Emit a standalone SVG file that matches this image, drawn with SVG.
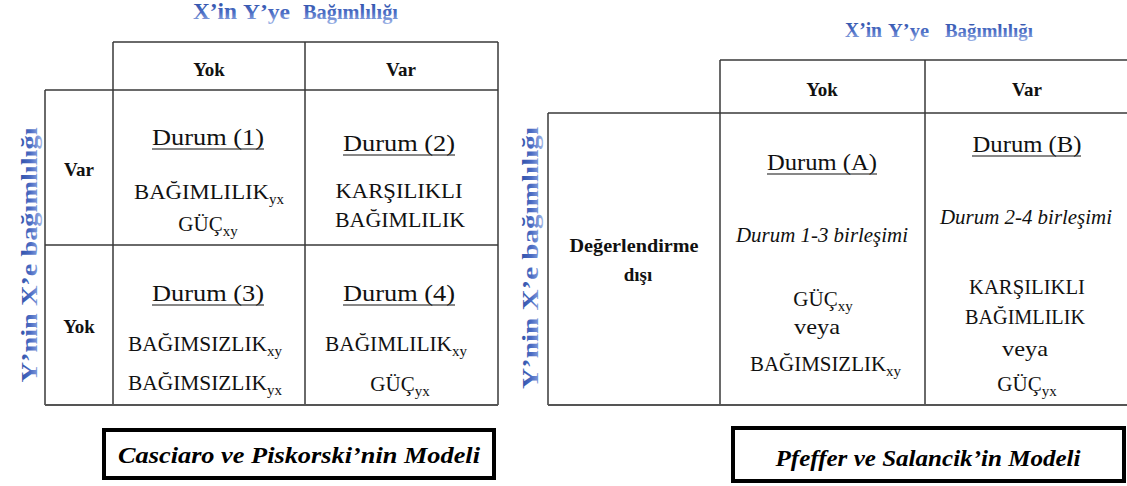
<svg xmlns="http://www.w3.org/2000/svg" width="1127" height="486" viewBox="0 0 1127 486" font-family="'Liberation Serif', 'Times New Roman', Times, serif">
  <defs>
    <linearGradient id="blueFill" x1="0" y1="0" x2="0" y2="1">
      <stop offset="0" stop-color="#27479e"/>
      <stop offset="0.55" stop-color="#4a6cc4"/>
      <stop offset="1" stop-color="#9fb5e6"/>
    </linearGradient>
    <style>
      text { font-family: 'Liberation Serif', 'Times New Roman', Times, serif; }
      .grid { stroke: #3a3a3a; stroke-width: 1.5; fill: none; }
      .base { stroke: #555; stroke-width: 2.2; fill: none; }
      .t { fill: #111; text-anchor: middle; }
      .t.l { text-anchor: start; }
      .hd { font-size: 19px; font-weight: bold; }
      .du { font-size: 23px; }
      .tx { font-size: 21px; }
      .it { font-size: 20px; font-style: italic; }
      .sub { font-size: 15px; }
      .ul { stroke: #111; stroke-width: 1.2; }
      .ttl { font-weight: bold; fill: url(#blueFill); }
      .cap { font-weight: bold; font-style: italic; font-size: 24px; fill: #000; text-anchor: middle; }
      .capbox { fill: #fff; stroke: #000; stroke-width: 4; }
    </style>
  </defs>
  <rect width="1127" height="486" fill="#fff"/>

  <!-- Casciaro & Piskorski model -->
  <g id="left-model">
    <g id="left-axis-x">
      <text class="ttl" y="19"><tspan x="193" font-size="24" textLength="44" lengthAdjust="spacingAndGlyphs">X’in</tspan><tspan x="243" font-size="21" textLength="47" lengthAdjust="spacingAndGlyphs">Y’ye</tspan><tspan x="303" font-size="21" textLength="95" lengthAdjust="spacingAndGlyphs">Bağımlılığı</tspan></text>
    </g>
    <g id="left-axis-y">
      <text class="ttl" font-size="24" text-anchor="middle" transform="translate(37 255) rotate(-90)" textLength="255" lengthAdjust="spacingAndGlyphs">Y’nin X’e bağımlılığı</text>
    </g>
    <g id="left-grid">
      <path class="grid" d="M113 42 H498 M45 90 H498 M45 245 H498 M45 90 V405 M113 42 V405 M305 42 V405 M498 42 V405"/>
      <path class="base" d="M45 405 H498"/>
    </g>
    <g id="left-headers">
      <text class="t hd" x="209" y="76">Yok</text>
      <text class="t hd" x="401" y="76">Var</text>
      <text class="t hd" x="79" y="176">Var</text>
      <text class="t hd" x="79" y="333">Yok</text>
    </g>
    <g id="cell-1">
      <text class="t du" x="208" y="145" textLength="112" lengthAdjust="spacingAndGlyphs">Durum (1)</text>
      <line class="ul" x1="152" y1="149" x2="264" y2="149"/>
      <text class="t l tx" x="134" y="199"><tspan textLength="135" lengthAdjust="spacingAndGlyphs">BAĞIMLILIK</tspan><tspan class="sub" dy="5">yx</tspan></text>
      <text class="t tx" x="208" y="231">GÜÇ<tspan class="sub" dy="5">xy</tspan></text>
    </g>
    <g id="cell-2">
      <text class="t du" x="399" y="151" textLength="112" lengthAdjust="spacingAndGlyphs">Durum (2)</text>
      <line class="ul" x1="343" y1="155" x2="455" y2="155"/>
      <text class="t tx" x="399" y="198" textLength="127" lengthAdjust="spacingAndGlyphs">KARŞILIKLI</text>
      <text class="t tx" x="400" y="227" textLength="130" lengthAdjust="spacingAndGlyphs">BAĞIMLILIK</text>
    </g>
    <g id="cell-3">
      <text class="t du" x="208" y="301" textLength="112" lengthAdjust="spacingAndGlyphs">Durum (3)</text>
      <line class="ul" x1="152" y1="305" x2="264" y2="305"/>
      <text class="t l tx" x="128" y="351"><tspan textLength="139" lengthAdjust="spacingAndGlyphs">BAĞIMSIZLIK</tspan><tspan class="sub" dy="5">xy</tspan></text>
      <text class="t l tx" x="128" y="390"><tspan textLength="139" lengthAdjust="spacingAndGlyphs">BAĞIMSIZLIK</tspan><tspan class="sub" dy="5">yx</tspan></text>
    </g>
    <g id="cell-4">
      <text class="t du" x="399" y="301" textLength="112" lengthAdjust="spacingAndGlyphs">Durum (4)</text>
      <line class="ul" x1="343" y1="305" x2="455" y2="305"/>
      <text class="t l tx" x="325" y="351"><tspan textLength="127" lengthAdjust="spacingAndGlyphs">BAĞIMLILIK</tspan><tspan class="sub" dy="5">xy</tspan></text>
      <text class="t tx" x="400" y="391">GÜÇ<tspan class="sub" dy="5">yx</tspan></text>
    </g>
    <g id="left-caption">
      <rect class="capbox" x="104" y="430" width="390" height="48"/>
      <text class="cap" x="299" y="463" textLength="362" lengthAdjust="spacingAndGlyphs">Casciaro ve Piskorski’nin Modeli</text>
    </g>
  </g>

  <!-- Pfeffer & Salancik model -->
  <g id="right-model">
    <g id="right-axis-x">
      <text class="ttl" y="37"><tspan x="845" font-size="22" textLength="37" lengthAdjust="spacingAndGlyphs">X’in</tspan><tspan x="888" font-size="19" textLength="41" lengthAdjust="spacingAndGlyphs">Y’ye</tspan><tspan x="945" font-size="19" textLength="88" lengthAdjust="spacingAndGlyphs">Bağımlılığı</tspan></text>
    </g>
    <g id="right-axis-y">
      <text class="ttl" font-size="24" text-anchor="middle" transform="translate(538 258) rotate(-90)" textLength="262" lengthAdjust="spacingAndGlyphs">Y’nin X’e bağımlılığı</text>
    </g>
    <g id="right-grid">
      <path class="grid" d="M720 60 H1127 M548 113 H1127 M548 113 V405 M720 60 V405 M925 60 V405"/>
      <path class="base" d="M548 405 H1127"/>
    </g>
    <g id="right-headers">
      <text class="t hd" x="822" y="96">Yok</text>
      <text class="t hd" x="1027" y="96">Var</text>
      <text class="t hd" x="634" y="252" textLength="129" lengthAdjust="spacingAndGlyphs">Değerlendirme</text>
      <text class="t hd" x="638" y="281">dışı</text>
    </g>
    <g id="cell-a">
      <text class="t du" x="822" y="170" textLength="110" lengthAdjust="spacingAndGlyphs">Durum (A)</text>
      <line class="ul" x1="767" y1="174" x2="877" y2="174"/>
      <text class="t it" x="822" y="242" textLength="172" lengthAdjust="spacingAndGlyphs">Durum 1-3 birleşimi</text>
      <text class="t tx" x="823" y="306">GÜÇ<tspan class="sub" dy="5">xy</tspan></text>
      <text class="t tx" x="817" y="334" textLength="46" lengthAdjust="spacingAndGlyphs">veya</text>
      <text class="t l tx" x="750" y="371"><tspan textLength="136" lengthAdjust="spacingAndGlyphs">BAĞIMSIZLIK</tspan><tspan class="sub" dy="5">xy</tspan></text>
    </g>
    <g id="cell-b">
      <text class="t du" x="1027" y="152" textLength="109" lengthAdjust="spacingAndGlyphs">Durum (B)</text>
      <line class="ul" x1="972" y1="156" x2="1081" y2="156"/>
      <text class="t it" x="1026" y="224" textLength="172" lengthAdjust="spacingAndGlyphs">Durum 2-4 birleşimi</text>
      <text class="t tx" x="1027" y="294" textLength="116" lengthAdjust="spacingAndGlyphs">KARŞILIKLI</text>
      <text class="t tx" x="1025" y="324" textLength="120" lengthAdjust="spacingAndGlyphs">BAĞIMLILIK</text>
      <text class="t tx" x="1025" y="356" textLength="46" lengthAdjust="spacingAndGlyphs">veya</text>
      <text class="t tx" x="1027" y="391">GÜÇ<tspan class="sub" dy="5">yx</tspan></text>
    </g>
    <g id="right-caption">
      <rect class="capbox" x="733" y="428" width="391" height="53"/>
      <text class="cap" x="928" y="466" textLength="305" lengthAdjust="spacingAndGlyphs">Pfeffer ve Salancik’in Modeli</text>
    </g>
  </g>
</svg>
